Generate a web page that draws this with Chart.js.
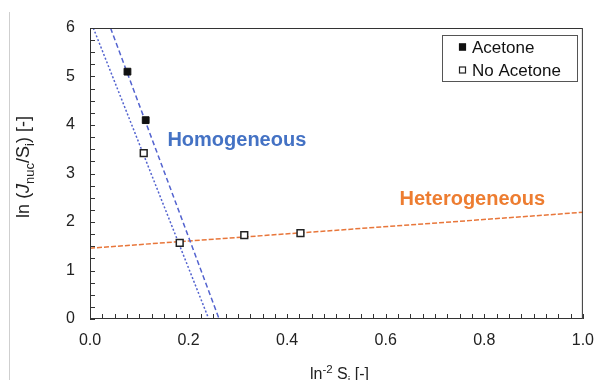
<!DOCTYPE html>
<html>
<head>
<meta charset="utf-8">
<script src="https://cdn.jsdelivr.net/npm/chart.js@4.4.0/dist/chart.umd.min.js"></script>
<style>
  html, body { margin: 0; padding: 0; background: #fff; }
</style>
</head>
<body>
<canvas id="myChart" width="606" height="380"></canvas>
<script>
// measured points
var acetoneX = [0.076, 0.113];
var acetoneY = [5.10, 4.10];
var noAcetoneX = [0.109, 0.182, 0.313, 0.427];
var noAcetoneY = [3.42, 1.57, 1.73, 1.77];

// fitted lines, end points
var homAcetoneX = [0.0417, 0.262];
var homAcetoneY = [6, 0];
var homNoAcetoneX = [0.0067, 0.241];
var homNoAcetoneY = [6, 0];
var hetX = [0, 1];
var hetY = [1.46, 2.20];

var xTicks = [0, 0.2, 0.4, 0.6, 0.8, 1.0];
var yTicks = [0, 1, 2, 3, 4, 5, 6];

var regionLabels = ['Homogeneous', 'Heterogeneous'];
var regionX = [0.157, 0.628];
var regionY = [3.69, 2.47];
var regionColors = ['#4472C4', '#ED7D31'];

var FONT = '"Liberation Sans", Arial, sans-serif';

toPoints = (xs, ys) => xs.map((x, i) => ({ x: x, y: ys[i] }));

// draws text made of runs with sub/superscripts, centred on x
drawRich = (ctx, parts, x, y, size) => {
    var fontOf = p => (p.italic ? 'italic ' : '') + (p.sub || p.sup ? size * 0.72 : size) + 'px ' + FONT;
    var widths = parts.map(p => {
        ctx.font = fontOf(p);
        return ctx.measureText(p.t).width;
    });
    var total = widths.reduce((a, b) => a + b, 0);
    var cx = x - total / 2;
    parts.forEach((p, i) => {
        ctx.font = fontOf(p);
        var dy = p.sub ? size * 0.3 : (p.sup ? -size * 0.38 : 0);
        ctx.fillText(p.t, cx, y + dy);
        cx += widths[i];
    });
}

var decor = {
    id: 'decor',
    afterDraw: (chart) => {
        var ctx = chart.ctx;
        var a = chart.chartArea;
        var xs = chart.scales.x, ys = chart.scales.y;
        ctx.save();

        // faint outer frame line on the left
        ctx.strokeStyle = '#cfcfcf';
        ctx.lineWidth = 1;
        ctx.beginPath();
        ctx.moveTo(9.5, 12);
        ctx.lineTo(9.5, 380);
        ctx.stroke();

        // plot frame
        ctx.strokeStyle = '#333';
        ctx.lineWidth = 1;
        ctx.strokeRect(a.left + 0.5, a.top + 0.5, a.right - a.left - 1, a.bottom - a.top - 1);

        // inward minor ticks
        ctx.beginPath();
        for (var i = 0; i <= 40; i++) {
            var px = Math.round(xs.getPixelForValue(i * 0.025)) + 0.5;
            ctx.moveTo(px, a.bottom);
            ctx.lineTo(px, a.bottom - 5);
        }
        for (var j = 0; j <= 24; j++) {
            var py = Math.round(ys.getPixelForValue(j * 0.25)) + 0.5;
            ctx.moveTo(a.left, py);
            ctx.lineTo(a.left + 5, py);
        }
        ctx.stroke();

        // region labels
        ctx.textBaseline = 'middle';
        ctx.textAlign = 'left';
        ctx.font = 'bold 20px ' + FONT;
        regionLabels.forEach((t, k) => {
            ctx.fillStyle = regionColors[k];
            ctx.fillText(t, xs.getPixelForValue(regionX[k]), ys.getPixelForValue(regionY[k]));
        });

        // legend
        var lx = 442, ly = 35, lw = 135, lh = 46;
        ctx.fillStyle = '#fff';
        ctx.fillRect(lx, ly, lw, lh);
        ctx.strokeStyle = '#555';
        ctx.strokeRect(lx + 0.5, ly + 0.5, lw, lh);
        ctx.font = '17px ' + FONT;
        ctx.textAlign = 'left';
        ctx.textBaseline = 'middle';
        var legendSets = chart.data.datasets.filter(d => d.inLegend);
        legendSets.forEach((d, k) => {
            var cy = ly + 12 + k * 23;
            ctx.fillStyle = d.backgroundColor;
            ctx.fillRect(459, cy - 3.5, 7, 7);
            ctx.strokeStyle = d.borderColor;
            ctx.lineWidth = 1.2;
            ctx.strokeRect(459.5, cy - 3, 6, 6);
            ctx.fillStyle = '#111';
            ctx.fillText(d.label, 472, cy + 1);
        });

        // axis titles
        ctx.fillStyle = '#222';
        ctx.textAlign = 'left';
        ctx.textBaseline = 'alphabetic';
        drawRich(ctx, [
            { t: 'ln' }, { t: '-2', sup: true }, { t: ' S' }, { t: 'i', sub: true }, { t: ' [-]' }
        ], (a.left + a.right) / 2 + 3, 379, 16);

        ctx.translate(29, 167);
        ctx.rotate(-Math.PI / 2);
        drawRich(ctx, [
            { t: 'ln (' }, { t: 'J', italic: true }, { t: 'nuc', sub: true }, { t: '/S' }, { t: 'i', sub: true }, { t: ') [-]' }
        ], 0, 0, 18);

        ctx.restore();
    }
};

var myChart = new Chart(document.getElementById('myChart').getContext('2d'), {
    type: 'scatter',
    data: {
        datasets: [{
            label: 'Acetone',
            inLegend: true,
            data: toPoints(acetoneX, acetoneY),
            pointStyle: 'rect',
            pointRadius: 4.8,
            backgroundColor: '#111',
            borderColor: '#111',
            borderWidth: 1
        }, {
            label: 'No Acetone',
            inLegend: true,
            data: toPoints(noAcetoneX, noAcetoneY),
            pointStyle: 'rect',
            pointRadius: 4.8,
            backgroundColor: '#fff',
            borderColor: '#222',
            borderWidth: 1.5
        }, {
            label: 'Homogeneous (Acetone)',
            data: toPoints(homAcetoneX, homAcetoneY),
            showLine: true,
            pointRadius: 0,
            borderColor: '#5363cf',
            borderWidth: 1.5,
            borderDash: [5, 3]
        }, {
            label: 'Homogeneous (No Acetone)',
            data: toPoints(homNoAcetoneX, homNoAcetoneY),
            showLine: true,
            pointRadius: 0,
            borderColor: '#5363cf',
            borderWidth: 1.5,
            borderDash: [2, 2]
        }, {
            label: 'Heterogeneous',
            data: toPoints(hetX, hetY),
            showLine: true,
            pointRadius: 0,
            borderColor: '#e8763a',
            borderWidth: 1.5,
            borderDash: [5, 2]
        }]
    },
    options: {
        responsive: false,
        animation: false,
        devicePixelRatio: 1,
        layout: { padding: { top: 28, right: 18, left: 0, bottom: 0 } },
        plugins: {
            legend: { display: false },
            tooltip: { enabled: false }
        },
        scales: {
            x: {
                type: 'linear',
                min: 0,
                max: 1,
                afterFit: s => { s.height = 61; },
                afterBuildTicks: s => { s.ticks = xTicks.map(v => ({ value: v })); },
                ticks: {
                    callback: v => v.toFixed(1),
                    font: { family: FONT, size: 16 },
                    color: '#222',
                    padding: 12,
                    maxRotation: 0
                },
                grid: { drawOnChartArea: false, drawTicks: false },
                border: { display: false }
            },
            y: {
                type: 'linear',
                min: 0,
                max: 6,
                afterFit: s => { s.width = 90; },
                afterBuildTicks: s => { s.ticks = yTicks.map(v => ({ value: v })); },
                ticks: {
                    callback: v => String(v),
                    font: { family: FONT, size: 16 },
                    color: '#222',
                    padding: 15
                },
                grid: { drawOnChartArea: false, drawTicks: false },
                border: { display: false }
            }
        }
    },
    plugins: [decor]
});
</script>
</body>
</html>
